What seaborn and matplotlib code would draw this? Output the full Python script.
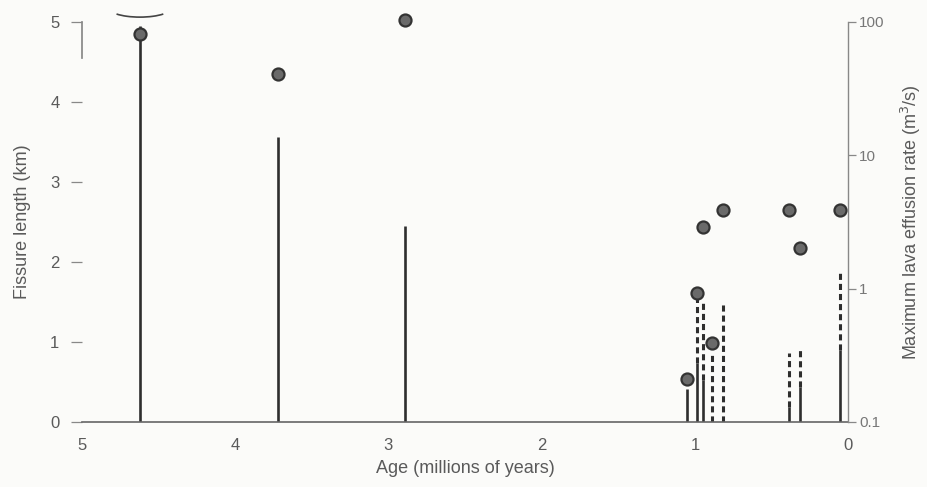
import numpy as np
import pandas as pd
import matplotlib.pyplot as plt
import seaborn as sns
from matplotlib.patches import Arc

# Edad de cada erupcion (millones de anos)
edad = [4.62, 3.72, 2.89, 1.05, 0.985, 0.95, 0.887, 0.815, 0.385, 0.313, 0.052]
# Longitud de fisura: tramo seguro (solido) y maximo posible (punteado), km
fisura_min = [4.95, 3.56, 2.45, 0.41, 0.74, 0.52, 0.0, 0.0, 0.19, 0.44, 0.90]
fisura_max = [4.95, 3.56, 2.45, 0.41, 1.69, 1.53, 0.84, 1.49, 0.86, 0.94, 1.86]
# Tasa maxima de efusion de lava (m3/s)
tasa = [81, 41, 103, 0.21, 0.93, 2.9, 0.39, 3.9, 3.9, 2.0, 3.9]

df = pd.DataFrame({'edad': edad, 'fmin': fisura_min, 'fmax': fisura_max, 'tasa': tasa})

sns.set_theme(style='white')
plt.rcParams['font.family'] = ['Liberation Sans', 'DejaVu Sans']

gris = '#5a5a5a'
linea = '#2e2e2e'

fig = plt.figure(figsize=(9.28, 4.87), dpi=100)
fig.patch.set_facecolor('#fbfbf9')
ax = fig.add_axes([0.088, 0.1335, 0.826, 0.8215])
ax.set_facecolor('none')

# Lineas solidas y punteadas
solido = df[df['fmin'] > 0]
ax.vlines(solido['edad'], 0, solido['fmin'], color=linea, lw=1.9)
punteado = df[df['fmax'] > df['fmin']]
ax.vlines(punteado['edad'], punteado['fmin'], punteado['fmax'], color=linea, lw=2.2,
          linestyles=(0, (2.0, 1.3)))

# Marca de corte arriba de la primera linea
ax.add_patch(Arc((df['edad'][0], 5.17), 0.40, 0.22, theta1=205, theta2=335,
                 color='#444444', lw=1.2, clip_on=False))

ax.set_xlim(5, 0)
ax.set_ylim(0, 5)
ax.set_xticks(range(0, 6))
ax.set_yticks(range(0, 6))
ax.set_xlabel('Age (millions of years)', fontsize=13, color=gris, labelpad=5)
ax.set_ylabel('Fissure length (km)', fontsize=13, color=gris, labelpad=14)
ax.tick_params(axis='x', direction='inout', length=7, width=0.9, colors='#777777',
               labelcolor=gris, labelsize=12, pad=8)
ax.tick_params(axis='y', direction='out', length=8, width=0.9, colors='#888888',
               labelcolor=gris, labelsize=12, pad=8)
for s in ['top', 'right']:
    ax.spines[s].set_visible(False)
ax.spines['left'].set_bounds(4.55, 5)
ax.spines['left'].set_color('#888888')
ax.spines['bottom'].set_color('#666666')
ax.spines['bottom'].set_linewidth(1.2)

# Eje derecho: tasa de efusion
ax2 = ax.twinx()
sns.scatterplot(data=df, x='edad', y='tasa', ax=ax2, s=75, color='#6a6a6a',
                edgecolor='#333333', linewidth=1.6, clip_on=False, zorder=5)
ax2.set_yscale('log')
ax2.set_ylim(0.1, 100)
ax2.set_xlim(5, 0)
ax2.set_yticks([0.1, 1, 10, 100])
ax2.set_yticklabels(['0.1', '1', '10', '100'])
ax2.minorticks_off()
ax2.set_ylabel('Maximum lava effusion rate (m$^3$/s)', fontsize=13, color=gris,
               rotation=90, labelpad=10)
ax2.tick_params(axis='y', direction='out', length=6, width=0.9, colors='#888888',
                labelcolor='#777777', labelsize=11, pad=2)
for s in ['top', 'left', 'bottom']:
    ax2.spines[s].set_visible(False)
ax2.spines['right'].set_color('#888888')
ax2.spines['right'].set_linewidth(1.0)
ax2.set_xlabel('')

fig.savefig('out.png', dpi=100, facecolor=fig.get_facecolor())
